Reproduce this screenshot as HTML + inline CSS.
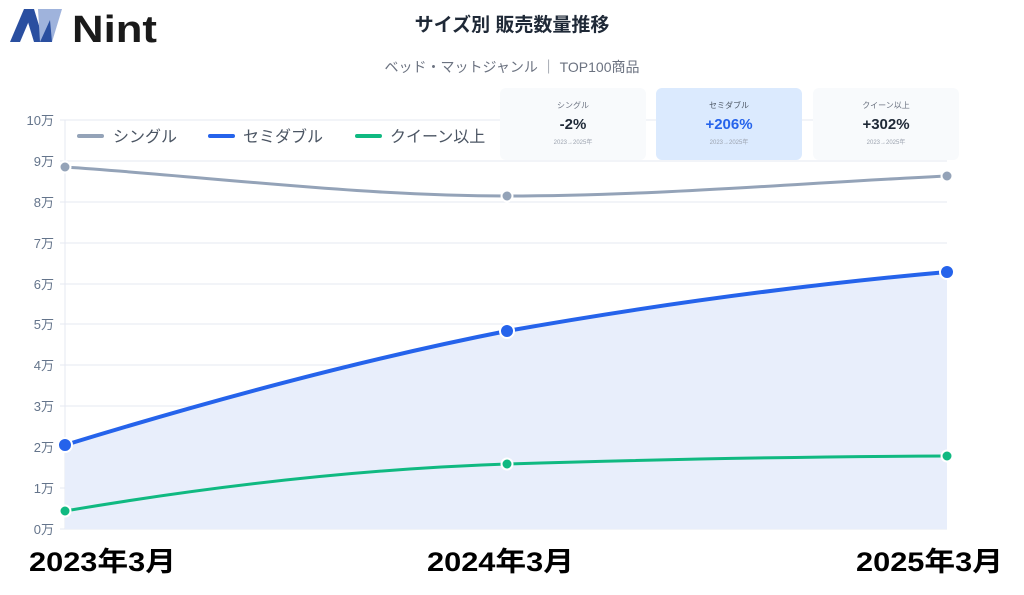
<!DOCTYPE html>
<html><head><meta charset="utf-8"><style>
body{margin:0;width:1024px;height:595px;background:#fff;overflow:hidden;font-family:"Liberation Sans","Noto Sans CJK JP",sans-serif;}
.card{position:absolute;top:88px;width:146px;height:72px;border-radius:6px;background:#f8fafc;text-align:center;}
.card .l{font-size:8px;color:#6b7280;margin-top:12px}
.card .v{font-size:15px;font-weight:bold;color:#1f2937;margin-top:5px}
.card .s{font-size:6px;color:#9ca3af;margin-top:4px}
</style></head><body>
<svg width="1024" height="595" style="position:absolute;left:0;top:0" font-family="Liberation Sans, Noto Sans CJK JP, sans-serif">
<polygon points="10,42 24,9 34,9 20,42" fill="#2a4fa0"/>
<polygon points="24,9 34,9 44,42 34,42" fill="#2a4fa0"/>
<polygon points="38,9 62,9 52,42 40,42" fill="#9fb3dc"/>
<polygon points="52,42 40,42 50,20" fill="#2a4fa0"/>
<text x="72" y="42" font-size="38" font-weight="bold" fill="#1a1a1a" textLength="85" lengthAdjust="spacingAndGlyphs">Nint</text>
<text x="512" y="31" font-size="19" font-weight="bold" fill="#1f2937" text-anchor="middle">サイズ別 販売数量推移</text>
<text x="512" y="72" font-size="14" fill="#6b7280" text-anchor="middle">ベッド・マットジャンル ｜ TOP100商品</text>
<g stroke="#e5e9f2" stroke-width="1">
<line x1="60" y1="120" x2="947" y2="120"/><line x1="60" y1="161" x2="947" y2="161"/><line x1="60" y1="202" x2="947" y2="202"/><line x1="60" y1="243" x2="947" y2="243"/><line x1="60" y1="284" x2="947" y2="284"/><line x1="60" y1="324" x2="947" y2="324"/><line x1="60" y1="365" x2="947" y2="365"/><line x1="60" y1="406" x2="947" y2="406"/><line x1="60" y1="447" x2="947" y2="447"/><line x1="60" y1="488" x2="947" y2="488"/><line x1="60" y1="529" x2="947" y2="529"/>
<line x1="65" y1="120" x2="65" y2="529"/>
</g>
<g font-size="13" fill="#64748b" text-anchor="end">
<text x="54" y="125">10万</text><text x="54" y="166">9万</text><text x="54" y="207">8万</text><text x="54" y="248">7万</text><text x="54" y="289">6万</text><text x="54" y="329">5万</text><text x="54" y="370">4万</text><text x="54" y="411">3万</text><text x="54" y="452">2万</text><text x="54" y="493">1万</text><text x="54" y="534">0万</text>
</g>
<path d="M65,445 C212,400 360,360 507,331 C654,305 800,285 947,272 L947,529 L65,529 Z" fill="#e8eefb"/>
<g fill="none" stroke-linecap="round">
<path d="M65,167 C212,177 360,196 507,196 C654,196 800,183 947,176" stroke="#94a3b8" stroke-width="3"/>
<path d="M65,445 C212,400 360,360 507,331 C654,305 800,285 947,272" stroke="#2563eb" stroke-width="4"/>
<path d="M65,511 C212,486 360,469 507,464 C654,459.5 800,456.5 947,456" stroke="#10b981" stroke-width="3"/>
</g>
<g stroke="#fff" stroke-width="2">
<circle cx="65" cy="167" r="5.5" fill="#94a3b8"/><circle cx="507" cy="196" r="5.5" fill="#94a3b8"/><circle cx="947" cy="176" r="5.5" fill="#94a3b8"/>
<circle cx="65" cy="445" r="7" fill="#2563eb"/><circle cx="507" cy="331" r="7" fill="#2563eb"/><circle cx="947" cy="272" r="7" fill="#2563eb"/>
<circle cx="65" cy="511" r="5.5" fill="#10b981"/><circle cx="507" cy="464" r="5.5" fill="#10b981"/><circle cx="947" cy="456" r="5.5" fill="#10b981"/>
</g>
<g font-size="16" fill="#4b5563">
<line x1="79" y1="136" x2="102" y2="136" stroke="#94a3b8" stroke-width="4" stroke-linecap="round"/><text x="113" y="142">シングル</text>
<line x1="210" y1="136" x2="233" y2="136" stroke="#2563eb" stroke-width="4" stroke-linecap="round"/><text x="243" y="142">セミダブル</text>
<line x1="357" y1="136" x2="380" y2="136" stroke="#10b981" stroke-width="4" stroke-linecap="round"/><text x="390" y="142">クイーン以上</text>
</g>
<g font-size="27" font-weight="bold" fill="#000">
<text x="29" y="571" textLength="147" lengthAdjust="spacingAndGlyphs">2023年3月</text><text x="427" y="571" textLength="147" lengthAdjust="spacingAndGlyphs">2024年3月</text><text x="856" y="571" textLength="147" lengthAdjust="spacingAndGlyphs">2025年3月</text>
</g>
</svg>
<div class="card" style="left:500px"><div class="l">シングル</div><div class="v">-2%</div><div class="s">2023→2025年</div></div>
<div class="card" style="left:656px;background:#dbeafe"><div class="l" style="color:#4b5563">セミダブル</div><div class="v" style="color:#2563eb">+206%</div><div class="s">2023→2025年</div></div>
<div class="card" style="left:813px"><div class="l">クイーン以上</div><div class="v">+302%</div><div class="s">2023→2025年</div></div>
</body></html>
